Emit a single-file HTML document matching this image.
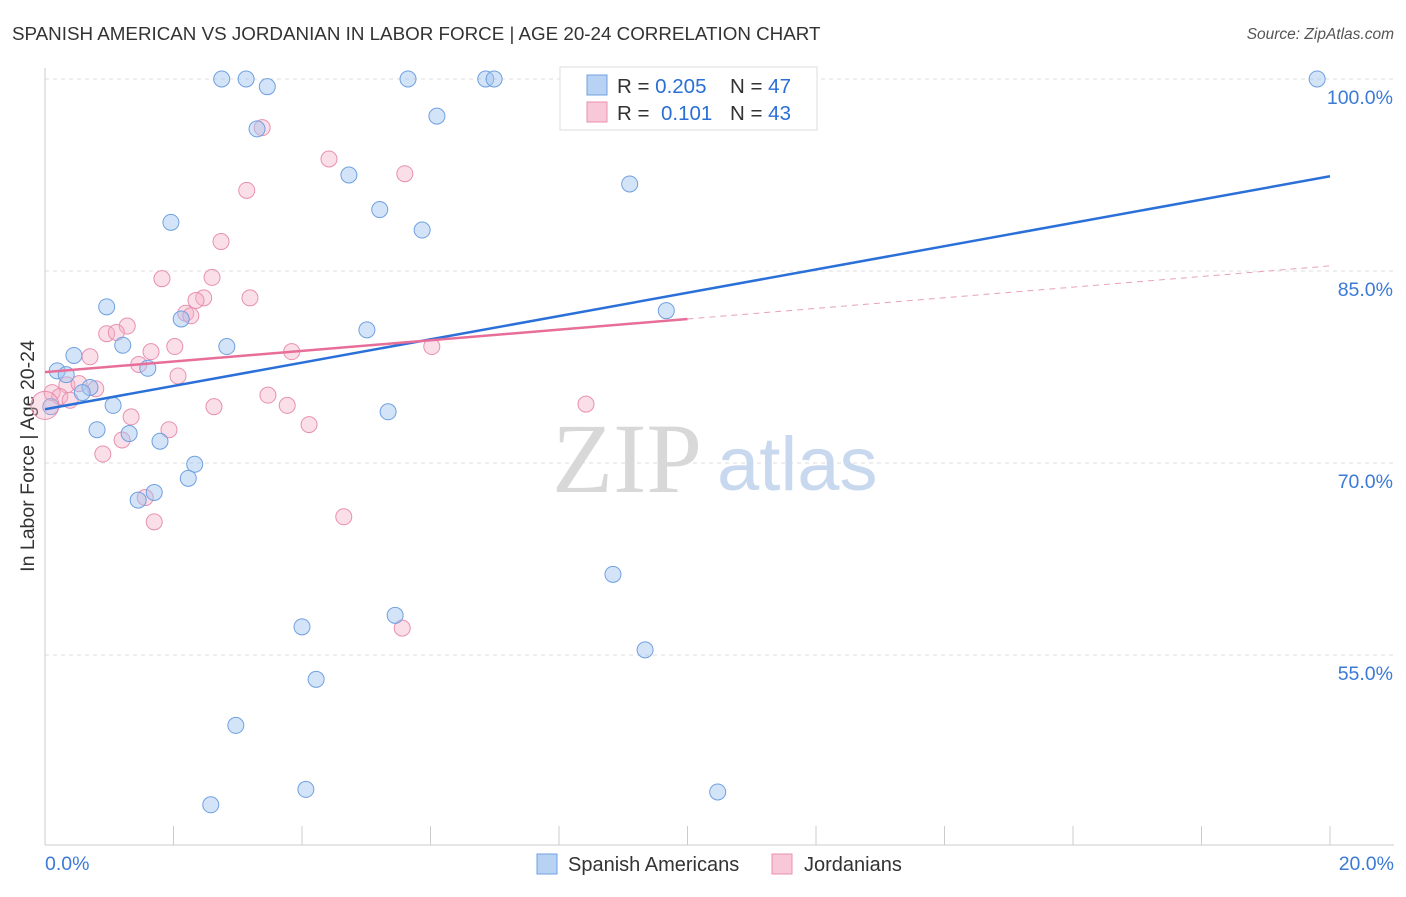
<!DOCTYPE html>
<html><head><meta charset="utf-8"><style>
body{margin:0;background:#fff;font-family:"Liberation Sans",sans-serif;}
</style></head><body>
<svg id="chart" width="1406" height="892" viewBox="0 0 1406 892" font-family="Liberation Sans, sans-serif">
<text x="12" y="40" font-size="18.8" fill="#333">SPANISH AMERICAN VS JORDANIAN IN LABOR FORCE | AGE 20-24 CORRELATION CHART</text>
<text x="1394" y="39" font-size="15.5" fill="#555" font-style="italic" text-anchor="end">Source: ZipAtlas.com</text>
<text transform="translate(34,456) rotate(-90)" font-size="19.5" fill="#333" text-anchor="middle">In Labor Force | Age 20-24</text>
<g id="grid"></g>
<g id="axes"></g>
<text x="552" y="492" font-size="100" fill="#d8d8d8" style="font-family:'Liberation Serif',serif">ZIP</text>
<text x="717" y="490" font-size="76" fill="#c8d8ee">atlas</text>
<g id="pts"></g>
<g id="lines"></g>
<g>
<rect x="560" y="67" width="257" height="63" fill="#fff" stroke="#ddd"/>
<rect x="587" y="75" width="20" height="20" fill="#b8d2f4" stroke="#6fa0e0"/>
<rect x="587" y="102" width="20" height="20" fill="#f9c8d8" stroke="#e890b0"/>
<text x="617" y="93" font-size="20.5" fill="#333">R = <tspan fill="#2b6fd6">0.205</tspan><tspan x="730">N = </tspan><tspan fill="#2b6fd6">47</tspan></text>
<text x="617" y="120" font-size="20.5" fill="#333">R = <tspan x="661" fill="#2b6fd6">0.101</tspan><tspan x="730">N = </tspan><tspan fill="#2b6fd6">43</tspan></text>
</g>
<g>
<rect x="537" y="854" width="20" height="20" fill="#b8d2f4" stroke="#6fa0e0"/>
<text x="568" y="871" font-size="20" fill="#333">Spanish Americans</text>
<rect x="772" y="854" width="20" height="20" fill="#f9c8d8" stroke="#e890b0"/>
<text x="804" y="871" font-size="20" fill="#333">Jordanians</text>
</g>
</svg>
<script>
const yTicks=[100,85,70,55];
const xTickLabels=["0.0%","20.0%"];
const blueX=[2.75,3.13,3.46,5.65,6.86,6.99,19.8,6.10,3.30,4.73,9.10,5.21,1.96,5.87,0.96,2.12,9.67,5.01,1.21,2.83,0.45,1.60,0.19,0.33,0.70,0.58,1.06,5.34,0.81,1.31,1.79,2.33,2.23,1.70,1.45,8.84,5.45,4.00,9.34,4.22,2.97,4.06,2.58,10.47,0.09];
const blueY=[100,100,99.4,100,100,100,100,97.1,96.1,92.5,91.8,89.8,88.8,88.2,82.2,81.25,81.9,80.4,79.2,79.1,78.4,77.4,77.2,76.9,75.9,75.5,74.5,74.0,72.6,72.3,71.7,69.9,68.8,67.7,67.1,61.3,58.1,57.2,55.4,53.1,49.5,44.5,43.3,44.3,74.4];
const pinkX=[3.38,4.42,3.14,5.60,2.74,1.82,2.60,3.19,2.47,2.35,2.19,2.27,1.28,0.96,1.11,2.02,1.65,3.84,6.02,0.70,1.46,2.07,0.34,0.53,0.79,0.11,0.23,0.39,3.47,2.63,3.77,8.42,1.34,4.11,1.93,1.20,0.90,1.56,1.70,4.65,5.56];
const pinkY=[96.2,93.75,91.3,92.6,87.3,84.4,84.5,82.9,82.9,82.7,81.7,81.5,80.7,80.1,80.2,79.1,78.7,78.7,79.1,78.3,77.7,76.8,76.1,76.2,75.8,75.5,75.2,74.9,75.3,74.4,74.5,74.6,73.6,73.0,72.6,71.8,70.7,67.3,65.4,65.8,57.1];
const blueLine=[74.2,92.4];
const pinkLine=[77.1,85.4];
const pinkSolidEnd=10;
const NS="http://www.w3.org/2000/svg";
const sx=v=>45+v*64.25, sy=v=>79+(100-v)*12.8;
function mk(tag,attrs,parent){const e=document.createElementNS(NS,tag);for(const k in attrs)e.setAttribute(k,attrs[k]);parent.appendChild(e);return e;}
const grid=document.getElementById('grid'),axes=document.getElementById('axes'),pts=document.getElementById('pts'),lines=document.getElementById('lines');
yTicks.forEach(t=>{
 const l=mk('line',{x1:45,x2:1394,y1:sy(t),y2:sy(t),stroke:'#ddd','stroke-dasharray':'4,4'},grid);
 
 
 const tx=mk('text',{x:1393,y:sy(t)+25,'font-size':19.5,fill:'#3b7ad6','text-anchor':'end'},axes);
 tx.textContent=t.toFixed(1)+'%';
 
 
});
mk('line',{x1:45,x2:45,y1:68,y2:845,stroke:'#ccc'},axes);
mk('line',{x1:45,x2:1394,y1:845,y2:845,stroke:'#ccc'},axes);
for(let i=0;i<=10;i++){const x=sx(i*2);const tk=mk('line',{x1:x,x2:x,y1:826,y2:845,stroke:'#ccc'},axes);
 
 }
const xl0=mk('text',{x:45,y:870,'font-size':19.5,fill:'#3b7ad6'},axes);xl0.textContent=xTickLabels[0];


const xl1=mk('text',{x:1394,y:870,'font-size':19.5,fill:'#3b7ad6','text-anchor':'end'},axes);xl1.textContent=xTickLabels[1];


pinkX.forEach((x,i)=>{const c=mk('circle',{cx:sx(x),cy:sy(pinkY[i]),r:8,fill:'rgba(245,175,198,0.4)',stroke:'#e890b0','stroke-width':1},pts);
 
 });
blueX.forEach((x,i)=>{const c=mk('circle',{cx:sx(x),cy:sy(blueY[i]),r:8,fill:'rgba(160,196,240,0.45)',stroke:'#6fa0e0','stroke-width':1},pts);
 
 });
const big=mk('circle',{cx:sx(0),cy:sy(74.5),r:14,fill:'rgba(245,175,198,0.35)',stroke:'#e890b0'},pts);


const bl=mk('line',{x1:sx(0),y1:sy(blueLine[0]),x2:sx(20),y2:sy(blueLine[1]),stroke:'#2b70d8','stroke-width':2.5},lines);


const pm=pinkLine[0]+(pinkLine[1]-pinkLine[0])*pinkSolidEnd/20;
const pl=mk('line',{x1:sx(0),y1:sy(pinkLine[0]),x2:sx(pinkSolidEnd),y2:sy(pm),stroke:'#e86e9a','stroke-width':2.5},lines);


const pd=mk('line',{x1:sx(pinkSolidEnd),y1:sy(pm),x2:sx(20),y2:sy(pinkLine[1]),stroke:'#e8a0b8','stroke-width':1,'stroke-dasharray':'6,5'},lines);


</script>
</body></html>
